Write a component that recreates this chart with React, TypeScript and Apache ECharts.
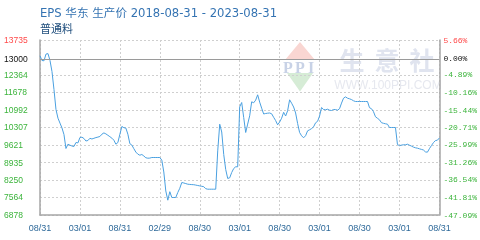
import React, { useEffect, useRef } from 'react';
import * as echarts from 'echarts';

const titleText = 'EPS 华东 生产价 2018-08-31 - 2023-08-31';
const subtitleText = '普通料';
const xTickLabels = ['08/31', '03/01', '08/31', '02/29', '08/30', '03/01', '08/30', '03/01', '08/30', '03/01', '08/31'];
const labelStep = 20;
const baseValue = 13000;
const yTickValues = [6878, 7564, 8250, 8935, 9621, 10307, 10992, 11678, 12364, 13000, 13735];
const yRightLabels = ['-47.09%', '-41.81%', '-36.54%', '-31.26%', '-25.99%', '-20.71%', '-15.44%', '-10.16%', '-4.89%', '0.00%', '5.66%'];

const prices = [
  13116, 12932, 12920, 13183, 13202, 12932, 12501, 11796, 11012, 10671,
  10479, 10291, 10032, 9484, 9652, 9613, 9582, 9562, 9719, 9703,
  9915, 9927, 9876, 9778, 9797, 9884, 9856, 9884, 9911, 9931,
  9954, 10044, 10095, 10056, 10001, 9946, 9888, 9809, 9652, 9719,
  10044, 10346, 10299, 10283, 10044, 9672, 9617, 9476, 9343, 9261,
  9221, 9249, 9190, 9120, 9104, 9108, 9131, 9131, 9131, 9131,
  9131, 9026, 8563, 7819, 7458, 7791, 7564, 7564, 7564, 7760,
  7925, 8152, 8132, 8109, 8085, 8077, 8069, 8065, 8050, 8034,
  8018, 8003, 7987, 7909, 7889, 7889, 7889, 7889, 7889, 9390,
  10436, 10130, 9249, 8661, 8309, 8336, 8544, 8700, 8767, 8767,
  11114, 11286, 10699, 10111, 10440, 10765, 11314, 11275, 11380, 11588,
  11302, 11063, 10836, 10855, 10867, 10875, 10844, 10706, 10577, 10413,
  10522, 10671, 10902, 10757, 10961, 11392, 11259, 11110, 10875, 10463,
  10111, 9982, 9903, 9986, 10177, 10217, 10264, 10334, 10491, 10550,
  10757, 11090, 11012, 11000, 11024, 10985, 10973, 11012, 11008, 10985,
  11043, 11263, 11455, 11506, 11455, 11431, 11400, 11353, 11325, 11325,
  11325, 11325, 11325, 11325, 11325, 11082, 11043, 10926, 10726, 10667,
  10608, 10495, 10471, 10452, 10436, 10307, 10307, 10307, 10307, 9641,
  9594, 9617, 9629, 9629, 9652, 9613, 9578, 9539, 9512, 9496,
  9472, 9449, 9425, 9351, 9339, 9476, 9598, 9711, 9793, 9809,
  9895,
];

export default function App() {
  const ref = useRef<HTMLDivElement>(null);
  useEffect(() => {
    const chart = echarts.init(ref.current!, null, { renderer: 'svg' });
    const categories = prices.map((_, i) => String(i));
    const yMin = yTickValues[0];
    const yMax = yTickValues[yTickValues.length - 1];
    const labelColor = (v: any) => {
      const n = Number(v);
      if (n === yMax) return '#ff4a4a';
      if (n === baseValue) return '#111111';
      return '#3cb43c';
    };
    const txt = (text: string, x: number, y: number, font: string, fill: string, align = 'left') => ({
      type: 'text',
      x,
      y,
      silent: true,
      style: { text, font, fill, align, verticalAlign: 'middle', textAlign: align, textVerticalAlign: 'middle' },
    });
    chart.setOption({
      animation: false,
      grid: { left: 40, right: 40, top: 40, height: 175, containLabel: false },
      graphic: {
        elements: [
          txt(titleText, 40, 13, '11.6px "DejaVu Sans", "Noto Sans CJK SC"', '#3473b2'),
          txt(subtitleText, 40, 28, '11px "Noto Sans CJK SC"', '#22507e'),
          {
            type: 'polygon', silent: true, z: -1,
            shape: { points: [[300, 42], [285, 60], [315, 60]] },
            style: { fill: '#f9d6d2' },
          },
          {
            type: 'polygon', silent: true, z: -1,
            shape: { points: [[287, 73], [313, 73], [300, 91.5]] },
            style: { fill: '#d6ecd6' },
          },
          txt('P', 288, 67, 'bold 16px "Liberation Serif"', '#c8d2e6', 'center'),
          txt('P', 300, 67, 'bold 16px "Liberation Serif"', '#c8d2e6', 'center'),
          txt('I', 311, 67, 'bold 16px "Liberation Serif"', '#c8d2e6', 'center'),
          txt('生', 352, 59, 'bold 25px "Noto Sans CJK SC"', '#e0e4ef', 'center'),
          txt('意', 387, 59, 'bold 25px "Noto Sans CJK SC"', '#e0e4ef', 'center'),
          txt('社', 422, 59, 'bold 25px "Noto Sans CJK SC"', '#e0e4ef', 'center'),
          txt('WWW.100PPI.COM', 388, 85, '12px "Liberation Sans"', '#e6e8ef', 'center'),
        ],
      },
      xAxis: {
        type: 'category',
        data: categories,
        boundaryGap: false,
        axisLine: { show: true, lineStyle: { color: '#a6a6a6', width: 1.5 } },
        axisTick: { show: false },
        axisLabel: {
          interval: labelStep - 1,
          margin: 8,
          color: '#2f6a9a',
          fontSize: 9,
          fontFamily: 'Liberation Sans',
          formatter: (_v: string, idx: number) => (idx % labelStep === 0 ? xTickLabels[idx / labelStep] : ''),
        },
        splitLine: {
          show: true,
          interval: labelStep - 1,
          lineStyle: { color: '#cfcfcf', type: [2, 2], width: 1 },
        },
      },
      yAxis: [
        {
          type: 'value',
          min: yMin,
          max: yMax,
          position: 'left',
          axisLine: { show: true, lineStyle: { color: '#a6a6a6', width: 1.5 } },
          axisTick: { show: false, customValues: yTickValues },
          axisLabel: {
            customValues: yTickValues,
            align: 'left',
            margin: 36,
            fontSize: 8.5,
            fontFamily: 'Liberation Sans',
            color: labelColor,
            formatter: (v: number) => String(Math.round(v)),
          },
          splitLine: { show: true, lineStyle: { color: '#cfcfcf', type: [2, 2], width: 1 } },
        },
        {
          type: 'value',
          min: yMin,
          max: yMax,
          position: 'right',
          axisLine: { show: true, lineStyle: { color: '#a6a6a6', width: 1.5 } },
          axisTick: { show: false, customValues: yTickValues },
          axisLabel: {
            customValues: yTickValues,
            align: 'left',
            margin: 4,
            fontSize: 8,
            fontFamily: 'Liberation Mono',
            color: labelColor,
            formatter: (v: number) => yRightLabels[yTickValues.indexOf(Number(v))] ?? '',
          },
          splitLine: { show: false },
        },
      ],
      series: [
        {
          type: 'line',
          data: prices,
          yAxisIndex: 0,
          symbol: 'none',
          lineStyle: { color: '#4aa0e0', width: 1 },
          z: 3,
          markLine: {
            silent: true,
            symbol: 'none',
            label: { show: false },
            lineStyle: { color: '#9a9a9a', type: 'solid', width: 1.2 },
            data: [{ yAxis: baseValue }],
          },
        },
      ],
    });
    return () => chart.dispose();
  }, []);
  return <div ref={ref} style={{ position: 'fixed', left: 0, top: 0, width: 480, height: 240 }} />;
}
